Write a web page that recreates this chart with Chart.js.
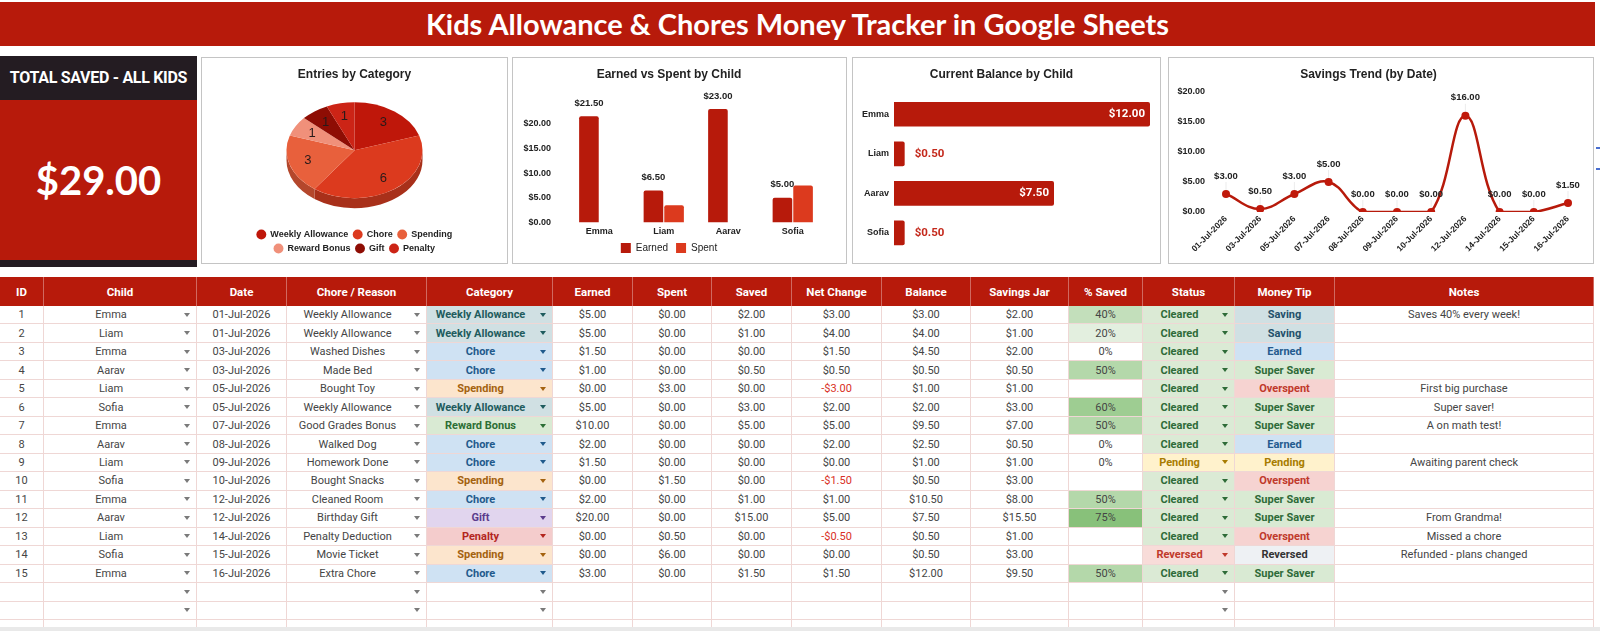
<!DOCTYPE html>
<html>
<head>
<meta charset="utf-8">
<title>Kids Allowance &amp; Chores Money Tracker</title>
<script src="https://cdn.jsdelivr.net/npm/chart.js@4.4.1/dist/chart.umd.min.js"></script>
<style>
  html, body { margin: 0; padding: 0; background: #fff; }
  body { width: 1600px; height: 631px; overflow: hidden; position: relative; font-family: Roboto, Arial, sans-serif; }
  #title { position: absolute; left: 0; top: 2px; width: 1595px; height: 44px; background: #b71a0b; color: #fff;
           font: 700 29px Lato, sans-serif; text-align: center; line-height: 44px; }
  #total { position: absolute; left: 0; top: 56px; width: 197px; height: 211px; background: #b71a0b; }
  #total .head { position: absolute; left: 0; top: 0; width: 197px; height: 44px; background: #241c22; color: #fff;
                 font: 700 16px Roboto, sans-serif; letter-spacing: -0.3px; text-align: center; line-height: 44px; }
  #total .value { position: absolute; left: 0; top: 100px; width: 197px; text-align: center; color: #fff;
                  font: 700 40px Lato, sans-serif; line-height: 48px; }
  #total .foot { position: absolute; left: 0; bottom: 0; width: 197px; height: 7px; background: #241c22; }
  .box { position: absolute; top: 57px; height: 207px; border: 1px solid #c4c4c4; box-sizing: border-box; background: #fff; }
  .box canvas { position: absolute; left: 0; top: 0; }
  .mark { position: absolute; left: 1596px; width: 4px; height: 1.5px; background: #4a6fd0; }
  #grid { position: absolute; left: 0; top: 277px; width: 1594px; display: grid;
          grid-template-columns: 44px 153px 90px 140px 126px 80px 79px 80px 90px 89px 98px 74px 92px 100px 259px;
          grid-template-rows: 29px repeat(17, 18.47px) 11px; }
  .hc { background: #b71a0b; color: #fff; font: 700 11.5px Roboto, sans-serif; display: flex; align-items: center;
        justify-content: center; border-right: 1px solid rgba(255,255,255,0.35); box-sizing: border-box; }
  .c { position: relative; display: flex; align-items: center; justify-content: center; box-sizing: border-box;
       border-right: 1px solid #efd7d5; border-bottom: 1px solid #efd7d5; font-size: 11px; color: #454545; white-space: nowrap; }
  .c.dd { padding-right: 18px; }
  .c.chip { font-weight: 700; }
  .arrow { position: absolute; right: 6px; top: 50%; margin-top: -2px; width: 0; height: 0;
           border-left: 3.5px solid transparent; border-right: 3.5px solid transparent; border-top: 4px solid #7a7a7a; }
  #scroll { position: absolute; left: 0; top: 627px; width: 1600px; height: 4px; background: #e9e9e9; }
</style>
</head>
<body>
<div id="title">Kids Allowance &amp; Chores Money Tracker in Google Sheets</div>
<div id="total"><div class="head">TOTAL SAVED - ALL KIDS</div><div class="value" id="totalValue"></div><div class="foot"></div></div>
<div class="box" style="left:201px;width:307px"><canvas id="pieChart" width="305" height="205"></canvas></div>
<div class="box" style="left:512px;width:335px"><canvas id="barChart" width="333" height="205"></canvas></div>
<div class="box" style="left:852px;width:309px"><canvas id="balChart" width="307" height="205"></canvas></div>
<div class="box" style="left:1168px;width:426px"><canvas id="trendChart" width="424" height="205"></canvas></div>
<div class="mark" style="top:147px"></div>
<div class="mark" style="top:168px"></div>
<div id="grid"></div>
<div id="scroll"></div>
<script>
// ---- chart data ----
const pieLabels = ['Weekly Allowance', 'Chore', 'Spending', 'Reward Bonus', 'Gift', 'Penalty'];
const pieCounts = [3, 6, 3, 1, 1, 1];

const childNames = ['Emma', 'Liam', 'Aarav', 'Sofia'];
const earnedByChild = [21.5, 6.5, 23, 5];
const spentByChild = [0, 3.5, 0, 7.5];
const balanceByChild = [12, 0.5, 7.5, 0.5];

const trendDates = ['01-Jul-2026', '03-Jul-2026', '05-Jul-2026', '07-Jul-2026', '08-Jul-2026', '09-Jul-2026',
                    '10-Jul-2026', '12-Jul-2026', '14-Jul-2026', '15-Jul-2026', '16-Jul-2026'];
const trendSaved = [3, 0.5, 3, 5, 0, 0, 0, 16, 0, 0, 1.5];

// ---- table data ----
const headers = ['ID', 'Child', 'Date', 'Chore / Reason', 'Category', 'Earned', 'Spent', 'Saved', 'Net Change',
                 'Balance', 'Savings Jar', '% Saved', 'Status', 'Money Tip', 'Notes'];
const ids = [1, 2, 3, 4, 5, 6, 7, 8, 9, 10, 11, 12, 13, 14, 15];
const children = ['Emma', 'Liam', 'Emma', 'Aarav', 'Liam', 'Sofia', 'Emma', 'Aarav', 'Liam', 'Sofia', 'Emma', 'Aarav', 'Liam', 'Sofia', 'Emma'];
const dates = ['01-Jul-2026', '01-Jul-2026', '03-Jul-2026', '03-Jul-2026', '05-Jul-2026', '05-Jul-2026', '07-Jul-2026', '08-Jul-2026',
               '09-Jul-2026', '10-Jul-2026', '12-Jul-2026', '12-Jul-2026', '14-Jul-2026', '15-Jul-2026', '16-Jul-2026'];
const chores = ['Weekly Allowance', 'Weekly Allowance', 'Washed Dishes', 'Made Bed', 'Bought Toy', 'Weekly Allowance', 'Good Grades Bonus',
                'Walked Dog', 'Homework Done', 'Bought Snacks', 'Cleaned Room', 'Birthday Gift', 'Penalty Deduction', 'Movie Ticket', 'Extra Chore'];
const categories = ['Weekly Allowance', 'Weekly Allowance', 'Chore', 'Chore', 'Spending', 'Weekly Allowance', 'Reward Bonus', 'Chore',
                    'Chore', 'Spending', 'Chore', 'Gift', 'Penalty', 'Spending', 'Chore'];
const earned = [5, 5, 1.5, 1, 0, 5, 10, 2, 1.5, 0, 2, 20, 0, 0, 3];
const spent = [0, 0, 0, 0, 3, 0, 0, 0, 0, 1.5, 0, 0, 0.5, 6, 0];
const saved = [2, 1, 0, 0.5, 0, 3, 5, 0, 0, 0, 1, 15, 0, 0, 1.5];
const netChange = [3, 4, 1.5, 0.5, -3, 2, 5, 2, 0, -1.5, 1, 5, -0.5, 0, 1.5];
const balance = [3, 4, 4.5, 0.5, 1, 2, 9.5, 2.5, 1, 0.5, 10.5, 7.5, 0.5, 0.5, 12];
const savingsJar = [2, 1, 2, 0.5, 1, 3, 7, 0.5, 1, 3, 8, 15.5, 1, 3, 9.5];
const pctSaved = [40, 20, 0, 50, null, 60, 50, 0, 0, null, 50, 75, null, null, 50];
const statuses = ['Cleared', 'Cleared', 'Cleared', 'Cleared', 'Cleared', 'Cleared', 'Cleared', 'Cleared', 'Pending', 'Cleared',
                  'Cleared', 'Cleared', 'Cleared', 'Reversed', 'Cleared'];
const moneyTips = ['Saving', 'Saving', 'Earned', 'Super Saver', 'Overspent', 'Super Saver', 'Super Saver', 'Earned', 'Pending',
                   'Overspent', 'Super Saver', 'Super Saver', 'Overspent', 'Reversed', 'Super Saver'];
const notes = ['Saves 40% every week!', '', '', '', 'First big purchase', 'Super saver!', 'A on math test!', '', 'Awaiting parent check',
               '', '', 'From Grandma!', 'Missed a chore', 'Refunded - plans changed', ''];

// ---- styles ----
const RED = '#b71a0b';
const ORANGE_RED = '#dc3a1e';
const pieColors = ['#bf170a', '#dc3a1e', '#e8603c', '#f0907a', '#8e0d04', '#cc2416'];
const pieSideColors = ['#8f1308', '#a8301a', '#b4472c', '#bd6b5a', '#650903', '#9c1c10'];
const PIE_TILT = 0.705;
const PIE_DEPTH = 10;
const PIE_SHIFT = -3;

const categoryStyles = {
    'Weekly Allowance': { bg: '#d0e0e3', fg: '#1f5c5e' },
    'Chore': { bg: '#cfe2f3', fg: '#1f5a8c' },
    'Spending': { bg: '#fce5cd', fg: '#a4620f' },
    'Reward Bonus': { bg: '#d9ead3', fg: '#2c6e35' },
    'Gift': { bg: '#e1d5ee', fg: '#5b3b8c' },
    'Penalty': { bg: '#f4cccc', fg: '#b3261e' }
};
const statusStyles = {
    'Cleared': { bg: '#dbead5', fg: '#2e6b38' },
    'Pending': { bg: '#fff2cc', fg: '#a87c00' },
    'Reversed': { bg: '#f8dcd9', fg: '#c0392b' }
};
const tipStyles = {
    'Saving': { bg: '#d0e0e3', fg: '#23506a' },
    'Earned': { bg: '#cfe2f3', fg: '#245a8e' },
    'Super Saver': { bg: '#d9ead3', fg: '#2e6b38' },
    'Overspent': { bg: '#f6d3d1', fg: '#c0392b' },
    'Pending': { bg: '#fff2cc', fg: '#a87c00' },
    'Reversed': { bg: '#eef1f4', fg: '#333333' }
};
const pctColors = { 0: '#ffffff', 20: '#e3efdf', 40: '#c3dfbb', 50: '#b4d8aa', 60: '#9ecd92', 75: '#88c17a' };

function money(v) {
    return (v < 0 ? '-$' : '$') + Math.abs(v).toFixed(2);
}

// ---- total panel ----
document.getElementById('totalValue').textContent = money(saved.reduce((s, v) => s + v, 0));

// ---- table ----
function buildTable() {
    const grid = document.getElementById('grid');
    let html = '';
    headers.forEach(h => { html += `<div class="hc">${h}</div>`; });

    function cell(text, opts) {
        opts = opts || {};
        let cls = 'c';
        let style = '';
        if (opts.dd) cls += ' dd';
        if (opts.chip) cls += ' chip';
        if (opts.bg) style += `background:${opts.bg};`;
        if (opts.fg) style += `color:${opts.fg};`;
        const arrow = opts.dd ? `<span class="arrow" style="border-top-color:${opts.arrow || '#7a7a7a'}"></span>` : '';
        return `<div class="${cls}" style="${style}">${text}${arrow}</div>`;
    }

    for (let i = 0; i < ids.length; i++) {
        const cat = categoryStyles[categories[i]];
        const st = statusStyles[statuses[i]];
        const tip = tipStyles[moneyTips[i]];
        html += cell(ids[i]);
        html += cell(children[i], { dd: true });
        html += cell(dates[i]);
        html += cell(chores[i], { dd: true });
        html += cell(categories[i], { dd: true, chip: true, bg: cat.bg, fg: cat.fg, arrow: cat.fg });
        html += cell(money(earned[i]));
        html += cell(money(spent[i]));
        html += cell(money(saved[i]));
        html += cell(money(netChange[i]), netChange[i] < 0 ? { fg: '#d93025' } : {});
        html += cell(money(balance[i]));
        html += cell(money(savingsJar[i]));
        html += cell(pctSaved[i] === null ? '' : pctSaved[i] + '%', pctSaved[i] === null ? {} : { bg: pctColors[pctSaved[i]] });
        html += cell(statuses[i], { dd: true, chip: true, bg: st.bg, fg: st.fg, arrow: st.fg });
        html += cell(moneyTips[i], { chip: true, bg: tip.bg, fg: tip.fg });
        html += cell(notes[i]);
    }
    // empty rows below the data
    for (let r = 0; r < 3; r++) {
        for (let c = 0; c < headers.length; c++) {
            const dd = r < 2 && (c === 1 || c === 3 || c === 4 || c === 12);
            html += cell('', { dd: dd });
        }
    }
    grid.innerHTML = html;
}
buildTable();

// ---- charts ----
Chart.defaults.font.family = "'Liberation Sans', Arial, sans-serif";
Chart.defaults.color = '#222';
Chart.defaults.animation = false;
Chart.defaults.responsive = false;
Chart.defaults.plugins.tooltip.enabled = false;

const titleFont = { size: 12, weight: 'bold' };
const tickFont = { size: 9, weight: 'bold' };

function chartTitle(text, bottom) {
    return { display: true, text: text, font: titleFont, color: '#222', padding: { top: 9, bottom: bottom } };
}

// 3D look for the pie: squash the disc and draw its rim
const pie3d = {
    id: 'pie3d',
    beforeDatasetsDraw(chart) {
        const arcs = chart.getDatasetMeta(0).data;
        const ctx = chart.ctx;
        const { x, y, outerRadius } = arcs[0].getProps(['x', 'y', 'outerRadius'], true);
        ctx.save();
        ctx.translate(x, y + PIE_SHIFT);
        ctx.scale(1, PIE_TILT);
        ctx.translate(-x, -y);
        const d = PIE_DEPTH / PIE_TILT;
        arcs.forEach((arc, i) => {
            const p = arc.getProps(['startAngle', 'endAngle'], true);
            const a0 = Math.max(p.startAngle, 0);
            const a1 = Math.min(p.endAngle, Math.PI);
            if (a1 <= a0) return;
            ctx.beginPath();
            ctx.arc(x, y + d, outerRadius, a0, a1);
            ctx.arc(x, y, outerRadius, a1, a0, true);
            ctx.closePath();
            ctx.fillStyle = pieSideColors[i];
            ctx.fill();
        });
    },
    afterDatasetsDraw(chart) {
        const ctx = chart.ctx;
        ctx.restore();
        const arcs = chart.getDatasetMeta(0).data;
        ctx.save();
        ctx.font = "13px 'Liberation Sans', Arial, sans-serif";
        ctx.fillStyle = '#2a1a1a';
        ctx.textAlign = 'center';
        ctx.textBaseline = 'middle';
        arcs.forEach((arc, i) => {
            const p = arc.getProps(['x', 'y', 'startAngle', 'endAngle', 'outerRadius'], true);
            const mid = (p.startAngle + p.endAngle) / 2;
            const r = p.outerRadius * 0.72;
            ctx.fillText(String(pieCounts[i]), p.x + r * Math.cos(mid), p.y + PIE_SHIFT + r * PIE_TILT * Math.sin(mid));
        });
        ctx.restore();
    }
};

new Chart(document.getElementById('pieChart'), {
    type: 'pie',
    data: {
        labels: pieLabels,
        datasets: [{ data: pieCounts, backgroundColor: pieColors, borderWidth: 0, radius: 68, clip: false }]
    },
    options: {
        layout: { padding: { left: 17, right: 17, top: 0, bottom: 0 } },
        plugins: {
            title: chartTitle('Entries by Category', 0),
            legend: {
                position: 'bottom',
                labels: { usePointStyle: true, pointStyle: 'circle', boxWidth: 9, boxHeight: 7, padding: 5,
                          font: { size: 9, weight: 'bold' }, color: '#222' }
            }
        }
    },
    plugins: [pie3d]
});

// value labels over the Earned bars
const earnedLabels = {
    id: 'earnedLabels',
    afterDatasetsDraw(chart) {
        const ctx = chart.ctx;
        const meta = chart.getDatasetMeta(0);
        ctx.save();
        ctx.font = "bold 9.5px 'Liberation Sans', Arial, sans-serif";
        ctx.fillStyle = '#222';
        ctx.textAlign = 'center';
        ctx.textBaseline = 'middle';
        meta.data.forEach((bar, i) => {
            ctx.fillText(money(earnedByChild[i]), bar.x, bar.y - 13);
        });
        ctx.restore();
    }
};

new Chart(document.getElementById('barChart'), {
    type: 'bar',
    data: {
        labels: childNames,
        datasets: [
            { label: 'Earned', data: earnedByChild, backgroundColor: RED, categoryPercentage: 0.64, barPercentage: 0.95, borderRadius: 2 },
            { label: 'Spent', data: spentByChild, backgroundColor: ORANGE_RED, categoryPercentage: 0.64, barPercentage: 0.95, borderRadius: 2 }
        ]
    },
    options: {
        layout: { padding: { left: 0, right: 21, top: 0, bottom: 0 } },
        scales: {
            x: {
                grid: { display: false, drawTicks: false }, border: { display: false },
                ticks: { font: tickFont, color: '#222', padding: 4 },
                afterFit: s => { s.height = 12.5; }
            },
            y: {
                min: 0, max: 25,
                grid: { display: false, drawTicks: false }, border: { display: false },
                ticks: { stepSize: 5, font: tickFont, color: '#222', padding: 16, callback: v => (v > 20 ? '' : money(v)) },
                afterFit: s => { s.width = 54; }
            }
        },
        plugins: {
            title: chartTitle('Earned vs Spent by Child', 17.6),
            legend: {
                position: 'bottom',
                labels: { boxWidth: 10, boxHeight: 10, padding: 8, font: { size: 10 }, color: '#222' }
            }
        }
    },
    plugins: [earnedLabels]
});

// balance labels: inside the bar when it fits, else just past its end
const balanceLabels = {
    id: 'balanceLabels',
    afterDatasetsDraw(chart) {
        const ctx = chart.ctx;
        const meta = chart.getDatasetMeta(0);
        ctx.save();
        ctx.font = 'bold 11.5px Roboto, Arial, sans-serif';
        ctx.textBaseline = 'middle';
        meta.data.forEach((bar, i) => {
            const text = money(balanceByChild[i]);
            const w = ctx.measureText(text).width;
            if (bar.x - bar.base > w + 12) {
                ctx.fillStyle = '#ffffff';
                ctx.textAlign = 'right';
                ctx.fillText(text, bar.x - 5, bar.y);
            } else {
                ctx.fillStyle = '#c4281b';
                ctx.textAlign = 'left';
                ctx.fillText(text, bar.x + 10, bar.y);
            }
        });
        ctx.restore();
    }
};

new Chart(document.getElementById('balChart'), {
    type: 'bar',
    data: {
        labels: childNames,
        datasets: [{ data: balanceByChild, backgroundColor: RED, categoryPercentage: 1, barPercentage: 0.625, borderRadius: 2 }]
    },
    options: {
        indexAxis: 'y',
        layout: { padding: { left: 0, right: 10, top: 0, bottom: 8.5 } },
        scales: {
            x: { display: false, min: 0, max: 12 },
            y: {
                grid: { display: false, drawTicks: false }, border: { display: false },
                ticks: { font: tickFont, color: '#222', padding: 5 },
                afterFit: s => { s.width = 41; }
            }
        },
        plugins: {
            title: chartTitle('Current Balance by Child', 13.1),
            legend: { display: false }
        }
    },
    plugins: [balanceLabels]
});

// value labels above each point with a faint leader line
const trendLabels = {
    id: 'trendLabels',
    afterDatasetsDraw(chart) {
        const ctx = chart.ctx;
        const meta = chart.getDatasetMeta(0);
        ctx.save();
        meta.data.forEach((pt, i) => {
            ctx.strokeStyle = 'rgba(0,0,0,0.08)';
            ctx.lineWidth = 1;
            ctx.beginPath();
            ctx.moveTo(pt.x, pt.y - 12);
            ctx.lineTo(pt.x, pt.y - 4);
            ctx.stroke();
            ctx.font = "bold 9.5px 'Liberation Sans', Arial, sans-serif";
            ctx.fillStyle = '#222';
            ctx.textAlign = 'center';
            ctx.textBaseline = 'middle';
            ctx.fillText(money(trendSaved[i]), pt.x, pt.y - 18);
        });
        ctx.restore();
    }
};

new Chart(document.getElementById('trendChart'), {
    type: 'line',
    data: {
        labels: trendDates,
        datasets: [{
            data: trendSaved, borderColor: RED, backgroundColor: '#c0190b', borderWidth: 2.5, tension: 0.4,
            pointRadius: 4, pointBorderWidth: 0, clip: { left: 8, top: 8, right: 8, bottom: 0 }
        }]
    },
    options: {
        layout: { padding: { left: 0, right: 25, top: 0, bottom: 0 } },
        scales: {
            x: {
                grid: { display: false, drawTicks: false }, border: { display: false },
                ticks: { autoSkip: false, maxRotation: 45, minRotation: 45, font: { size: 8.5, weight: 'bold' }, color: '#222', padding: 2 },
                afterFit: s => { s.height = 51; }
            },
            y: {
                min: 0, max: 20,
                grid: { display: false, drawTicks: false }, border: { display: false },
                ticks: { stepSize: 5, font: tickFont, color: '#222', padding: 21, callback: v => money(v) },
                afterFit: s => { s.width = 57; }
            }
        },
        plugins: {
            title: chartTitle('Savings Trend (by Date)', 10.4),
            legend: { display: false }
        }
    },
    plugins: [trendLabels]
});
</script>
</body>
</html>
